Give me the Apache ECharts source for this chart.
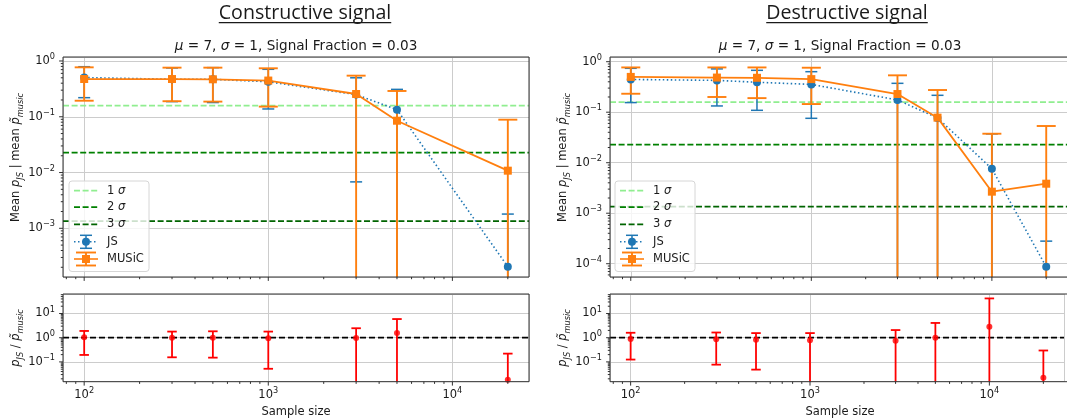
<!DOCTYPE html>
<html>
<head>
<meta charset="utf-8">
<script src="https://cdn.jsdelivr.net/npm/echarts@6/dist/echarts.min.js"></script>
<style>
  html, body { margin: 0; padding: 0; background: #ffffff; }
  #chart { width: 1067px; height: 420px; }
</style>
</head>
<body>
<div id="chart"></div>
<script>
// ---- data -------------------------------------------------------------
const panelTitles = ['Constructive signal', 'Destructive signal'];
const subTitleText = '{i|\u03bc}{t| = 7, }{i|\u03c3}{t| = 1, Signal Fraction = 0.03}';

const sigmaLevels = [0.1587, 0.02275, 0.00135];
const sigmaLabels = ['1', '2', '3'];
const sigmaColors = ['#90ee90', '#008000', '#006400'];

// constructive signal
const conSizes = [100, 300, 500, 1000, 3000, 5000, 20000];
const conJsMean = [0.505, 0.47, 0.47, 0.424, 0.25, 0.134, 0.000205];
const conJsHigh = [0.79, 0.75, 0.76, 0.71, 0.50, 0.31, 0.0018];
const conJsLow = [0.22, 0.187, 0.18, 0.138, 0.0068, null, null];
const conMusicMean = [0.475, 0.475, 0.47, 0.446, 0.256, 0.085, 0.0108];
const conMusicHigh = [0.77, 0.76, 0.76, 0.74, 0.546, 0.29, 0.0887];
const conMusicLow = [0.194, 0.19, 0.187, 0.152, null, null, null];
const conRatioMean = [1.04, 1.0, 1.0, 0.95, 0.98, 1.57, 0.0184];
const conRatioHigh = [1.9, 1.79, 1.84, 1.79, 2.46, 5.9, 0.22];
const conRatioLow = [0.194, 0.155, 0.15, 0.052, null, null, null];

// destructive signal
const desSizes = [100, 300, 500, 1000, 3000, 5000, 10000, 20000];
const desJsMean = [0.445, 0.4265, 0.392, 0.355, 0.175, 0.077, 0.0076, 0.000087];
const desJsHigh = [0.74, 0.72, 0.675, 0.634, 0.373, 0.216, 0.0372, 0.00028];
const desJsLow = [0.155, 0.133, 0.109, 0.0757, null, null, null, null];
const desMusicMean = [0.50, 0.485, 0.48, 0.452, 0.229, 0.078, 0.00267, 0.00384];
const desMusicHigh = [0.77, 0.77, 0.77, 0.76, 0.537, 0.275, 0.0375, 0.0533];
const desMusicLow = [0.232, 0.2, 0.19, 0.145, null, null, null, null];
const desRatioMean = [0.88, 0.87, 0.82, 0.78, 0.74, 1.0, 2.85, 0.0222];
const desRatioHigh = [1.6, 1.64, 1.55, 1.55, 2.07, 4.07, 42, 0.296];
const desRatioLow = [0.125, 0.077, 0.048, null, null, null, null, null];

// axis decades (major ticks) and ranges
const xDecades = [10, 100, 1000, 10000];
const xMajor = [100, 1000, 10000];
const conMainDecades = [1e-4, 1e-3, 1e-2, 1e-1, 1];
const conMainMajor = [1e-3, 1e-2, 1e-1, 1];
const desMainDecades = [1e-5, 1e-4, 1e-3, 1e-2, 1e-1, 1];
const desMainMajor = [1e-4, 1e-3, 1e-2, 1e-1, 1];
const ratioDecades = [0.01, 0.1, 1, 10];
const ratioMajor = [0.1, 1, 10];

// ---- styling / layout -------------------------------------------------
const FONT = 'DejaVu Sans';
const INK = '#1a1a1a';
const BLUE = '#1f77b4';
const ORANGE = '#ff7f0e';
const RED = '#ff0000';
const GRID_COLOR = '#cccccc';

const X_RANGE = [Math.pow(10, 2 - 0.11505), Math.pow(10, 4.30103 + 0.11505)];
const CON_MAIN_RANGE = [Math.pow(10, -3.873), Math.pow(10, 0.0717)];
const DES_MAIN_RANGE = [Math.pow(10, -4.263), Math.pow(10, 0.093)];
const RATIO_RANGE = [Math.pow(10, -1.818), Math.pow(10, 1.806)];

const grids = [
  { left: 63, top: 57, width: 466, height: 220 },     // constructive, main
  { left: 63, top: 294, width: 466, height: 87.7 },   // constructive, ratio
  { left: 610, top: 57, width: 460, height: 220 },    // destructive, main
  { left: 610, top: 294, width: 460, height: 87.7 }   // destructive, ratio
];

const tickRich = {
  b: { fontFamily: FONT, fontSize: 11.5, color: INK, lineHeight: 16 },
  e: { fontFamily: FONT, fontSize: 8.2, color: INK, lineHeight: 8, verticalAlign: 'top' }
};

function powLabel(v) {
  const e = Math.log10(v);
  const r = Math.round(e);
  if (Math.abs(e - r) > 1e-6) return '';
  const ex = r < 0 ? '\u2212' + (-r) : String(r);
  return '{b|10}{e|' + ex + '}';
}

function minorTicks(decades, range) {
  const out = [];
  decades.forEach(d => {
    for (let m = 2; m <= 9; m++) {
      const v = m * d;
      if (v > range[0] * 1.0001 && v < range[1] * 0.9999) out.push(v);
    }
  });
  return out;
}

function xAxisDef(gridIndex, showLabels) {
  return {
    type: 'log', logBase: 10, gridIndex, min: X_RANGE[0], max: X_RANGE[1],
    axisLine: { show: false }, axisTick: { show: false },
    splitLine: { show: true, lineStyle: { color: GRID_COLOR, width: 1 } },
    axisLabel: { show: showLabels, interval: 0, margin: 5, formatter: powLabel, rich: tickRich }
  };
}

function yAxisDef(gridIndex, range) {
  return {
    type: 'log', logBase: 10, gridIndex, min: range[0], max: range[1],
    axisLine: { show: false }, axisTick: { show: false },
    splitLine: { show: true, lineStyle: { color: GRID_COLOR, width: 1 } },
    axisLabel: { show: true, interval: 0, margin: 8, formatter: powLabel, rich: tickRich }
  };
}

// vertical error bars with caps; a missing low end runs to the bottom of the axis
function errorBars(gridIndex, xs, means, lows, highs, yRange, color, capWidth, lineWidth) {
  return {
    type: 'custom', xAxisIndex: gridIndex, yAxisIndex: gridIndex, silent: true,
    data: xs.map((x, i) => [x, means[i]]),
    renderItem(params, api) {
      const i = params.dataIndex;
      const x = xs[i];
      const hi = Math.min(highs[i], yRange[1]);
      const lo = lows[i] == null ? yRange[0] : lows[i];
      const pTop = api.coord([x, hi]);
      const pBot = api.coord([x, lo]);
      const st = { stroke: color, lineWidth: lineWidth };
      const children = [
        { type: 'line', shape: { x1: pTop[0], y1: pTop[1], x2: pBot[0], y2: pBot[1] }, style: st },
        { type: 'line', shape: { x1: pTop[0] - capWidth / 2, y1: pTop[1], x2: pTop[0] + capWidth / 2, y2: pTop[1] }, style: st }
      ];
      if (lows[i] != null) {
        children.push({ type: 'line', shape: { x1: pBot[0] - capWidth / 2, y1: pBot[1], x2: pBot[0] + capWidth / 2, y2: pBot[1] }, style: st });
      }
      return { type: 'group', children };
    }
  };
}

// horizontal reference lines across a whole panel
function hLines(gridIndex, levels, colors, widths, dash) {
  return {
    type: 'custom', xAxisIndex: gridIndex, yAxisIndex: gridIndex, silent: true,
    data: levels.map(v => [X_RANGE[0] * 2, v]),
    renderItem(params, api) {
      const cs = params.coordSys;
      const y = api.coord([X_RANGE[0] * 2, levels[params.dataIndex]])[1];
      return {
        type: 'line',
        shape: { x1: cs.x, y1: y, x2: cs.x + cs.width, y2: y },
        style: { stroke: colors[params.dataIndex], lineWidth: widths, lineDash: dash }
      };
    }
  };
}

// outward major / minor tick marks on the bottom and left edges
function tickMarks(gridIndex, yRange, yDecades, yMajor) {
  const yRef = Math.sqrt(yRange[0] * yRange[1]);
  const xRef = Math.sqrt(X_RANGE[0] * X_RANGE[1]);
  const items = [];
  xMajor.forEach(v => items.push({ axis: 'x', v, len: 3.9 }));
  minorTicks(xDecades, X_RANGE).forEach(v => items.push({ axis: 'x', v, len: 2.2 }));
  yMajor.forEach(v => items.push({ axis: 'y', v, len: 3.9 }));
  minorTicks(yDecades, yRange).forEach(v => items.push({ axis: 'y', v, len: 2.2 }));
  return {
    type: 'custom', xAxisIndex: gridIndex, yAxisIndex: gridIndex, silent: true, clip: false, z: 20,
    data: items.map(t => (t.axis === 'x' ? [t.v, yRef] : [xRef, t.v])),
    renderItem(params, api) {
      const t = items[params.dataIndex];
      const cs = params.coordSys;
      const st = { stroke: INK, lineWidth: 0.9 };
      if (t.axis === 'x') {
        const px = api.coord([t.v, yRef])[0];
        const y0 = cs.y + cs.height;
        return { type: 'line', shape: { x1: px, y1: y0, x2: px, y2: y0 + t.len }, style: st };
      }
      const py = api.coord([xRef, t.v])[1];
      return { type: 'line', shape: { x1: cs.x - t.len, y1: py, x2: cs.x, y2: py }, style: st };
    }
  };
}

function dataLine(gridIndex, xs, ys, color, symbol, lineType, width) {
  return {
    type: 'line', xAxisIndex: gridIndex, yAxisIndex: gridIndex, silent: true,
    data: xs.map((x, i) => [x, ys[i]]),
    symbol: symbol, symbolSize: 8, showSymbol: true,
    lineStyle: { color: color, width: width, type: lineType },
    itemStyle: { color: color, borderWidth: 0 }
  };
}

function ratioPoints(gridIndex, xs, ys) {
  return {
    type: 'scatter', xAxisIndex: gridIndex, yAxisIndex: gridIndex, silent: true,
    data: xs.map((x, i) => [x, ys[i]]),
    symbol: 'circle', symbolSize: 6, itemStyle: { color: RED }
  };
}

function mainPanelSeries(g, sizes, yRange, jsM, jsL, jsH, muM, muL, muH, decades, major) {
  return [
    hLines(g, sigmaLevels, sigmaColors, 1.8, [6, 2.6]),
    errorBars(g, sizes, jsM, jsL, jsH, yRange, BLUE, 12, 1.5),
    dataLine(g, sizes, jsM, BLUE, 'circle', [1.5, 2.5], 1.6),
    errorBars(g, sizes, muM, muL, muH, yRange, ORANGE, 19, 1.9),
    dataLine(g, sizes, muM, ORANGE, 'rect', 'solid', 1.8),
    tickMarks(g, yRange, decades, major)
  ];
}

function ratioPanelSeries(g, sizes, m, lo, hi) {
  return [
    hLines(g, [1], ['#000000'], 1.8, [6, 3]),
    errorBars(g, sizes, m, lo, hi, RATIO_RANGE, RED, 9.5, 1.8),
    ratioPoints(g, sizes, m),
    tickMarks(g, RATIO_RANGE, ratioDecades, ratioMajor)
  ];
}

// ---- text and legend drawn as graphic elements -------------------------
const labelRich = {
  t: { fontFamily: FONT, fontSize: 11.5, fill: INK, lineHeight: 16 },
  i: { fontFamily: FONT, fontSize: 11.5, fontStyle: 'italic', fill: INK, lineHeight: 16 },
  s: { fontFamily: FONT, fontSize: 8.2, fontStyle: 'italic', fill: INK, lineHeight: 8, verticalAlign: 'bottom' }
};
const subRich = {
  t: { fontFamily: FONT, fontSize: 13.6, fill: INK, lineHeight: 18 },
  i: { fontFamily: FONT, fontSize: 13.6, fontStyle: 'italic', fill: INK, lineHeight: 18 }
};

const measureCtx = document.createElement('canvas').getContext('2d');
function textWidth(txt, font) {
  measureCtx.font = font;
  return measureCtx.measureText(txt).width;
}

function richText(x, y, text, rich, rotation) {
  return {
    type: 'text', x: x, y: y, rotation: rotation || 0, silent: true, z: 60,
    style: { text: text, rich: rich, align: 'center', verticalAlign: 'middle', fill: INK, fontFamily: FONT, fontSize: 11.5 }
  };
}

function frame(gr) {
  return {
    type: 'rect', silent: true, z: 55,
    shape: { x: gr.left, y: gr.top, width: gr.width, height: gr.height },
    style: { fill: 'none', stroke: '#333333', lineWidth: 1 }
  };
}

function legend(x0, y0) {
  const rowsY = [9.7, 26.2, 43.4, 60.8, 78].map(d => y0 + d);
  const hx1 = x0 + 5, hx2 = x0 + 29, mx = x0 + 17, tx = x0 + 38;
  const els = [{
    type: 'rect', silent: true, z: 70,
    shape: { x: x0, y: y0, width: 80, height: 90.5, r: 3 },
    style: { fill: 'rgba(255,255,255,0.8)', stroke: '#d6d6d6', lineWidth: 1 }
  }];
  sigmaLevels.forEach((lv, k) => {
    els.push({ type: 'line', silent: true, z: 71, shape: { x1: hx1, y1: rowsY[k], x2: hx2, y2: rowsY[k] },
      style: { stroke: sigmaColors[k], lineWidth: 1.8, lineDash: [6, 2.6] } });
    els.push({ type: 'text', silent: true, z: 71, x: tx, y: rowsY[k],
      style: { text: '{t|' + sigmaLabels[k] + ' }{i|\u03c3}', rich: labelRich, align: 'left', verticalAlign: 'middle' } });
  });
  const entries = [
    { name: 'JS', color: BLUE, cap: 12, dash: [1.5, 2.5], marker: 'circle', lw: 1.5 },
    { name: 'MUSiC', color: ORANGE, cap: 20, dash: null, marker: 'rect', lw: 1.9 }
  ];
  entries.forEach((en, j) => {
    const y = rowsY[3 + j];
    els.push({ type: 'line', silent: true, z: 71, shape: { x1: hx1, y1: y, x2: hx2, y2: y },
      style: { stroke: en.color, lineWidth: 1.6, lineDash: en.dash } });
    els.push({ type: 'line', silent: true, z: 71, shape: { x1: mx, y1: y - 6.5, x2: mx, y2: y + 6.5 },
      style: { stroke: en.color, lineWidth: en.lw } });
    [-6.5, 6.5].forEach(dy => els.push({ type: 'line', silent: true, z: 71,
      shape: { x1: mx - en.cap / 2, y1: y + dy, x2: mx + en.cap / 2, y2: y + dy },
      style: { stroke: en.color, lineWidth: en.lw } }));
    if (en.marker === 'circle') {
      els.push({ type: 'circle', silent: true, z: 72, shape: { cx: mx, cy: y, r: 4 }, style: { fill: en.color } });
    } else {
      els.push({ type: 'rect', silent: true, z: 72, shape: { x: mx - 4, y: y - 4, width: 8, height: 8 }, style: { fill: en.color } });
    }
    els.push({ type: 'text', silent: true, z: 71, x: tx, y: y,
      style: { text: en.name, fontFamily: FONT, fontSize: 11.5, fill: INK, align: 'left', verticalAlign: 'middle' } });
  });
  return els;
}

const TITLE_FONT_SIZE = 19.6;
const TITLE_FONT = TITLE_FONT_SIZE + 'px "Open Sans"';
const titleCenters = [305, 847];

function titleGraphic(k) {
  const w = textWidth(panelTitles[k], TITLE_FONT);
  const cx = titleCenters[k];
  return [
    { type: 'text', silent: true, z: 60, x: cx, y: 13.2,
      style: { text: panelTitles[k], fontFamily: 'Open Sans', fontSize: TITLE_FONT_SIZE, fill: INK, align: 'center', verticalAlign: 'middle' } },
    { type: 'line', silent: true, z: 60, shape: { x1: cx - w / 2, y1: 22.6, x2: cx + w / 2, y2: 22.6 },
      style: { stroke: INK, lineWidth: 1.3 } }
  ];
}

const mainLabel = '{t|Mean }{i|p}{s|JS}{t| | mean }{i|p\u0303}{s|music}';
const ratioLabel = '{i|p}{s|JS}{t| / }{i|p\u0303}{s|music}';

const graphics = [].concat(
  titleGraphic(0), titleGraphic(1),
  [
    richText(grids[0].left + grids[0].width / 2, 46.5, subTitleText, subRich),
    richText(grids[2].left + grids[2].width / 2, 46.5, subTitleText, subRich),
    richText(16.5, 157.5, mainLabel, labelRich, Math.PI / 2),
    richText(563.5, 157.5, mainLabel, labelRich, Math.PI / 2),
    richText(16.5, 338, ratioLabel, labelRich, Math.PI / 2),
    richText(563.5, 338, ratioLabel, labelRich, Math.PI / 2),
    richText(grids[1].left + grids[1].width / 2, 412.5, '{t|Sample size}', labelRich),
    richText(grids[3].left + grids[3].width / 2, 412.5, '{t|Sample size}', labelRich),
    frame(grids[0]), frame(grids[1]), frame(grids[2]), frame(grids[3])
  ],
  legend(69, 181), legend(615, 181)
);

const option = {
  backgroundColor: '#ffffff',
  animation: false,
  grid: grids.map(g => Object.assign({ containLabel: false }, g)),
  xAxis: [xAxisDef(0, false), xAxisDef(1, true), xAxisDef(2, false), xAxisDef(3, true)],
  yAxis: [yAxisDef(0, CON_MAIN_RANGE), yAxisDef(1, RATIO_RANGE), yAxisDef(2, DES_MAIN_RANGE), yAxisDef(3, RATIO_RANGE)],
  series: [].concat(
    mainPanelSeries(0, conSizes, CON_MAIN_RANGE, conJsMean, conJsLow, conJsHigh,
      conMusicMean, conMusicLow, conMusicHigh, conMainDecades, conMainMajor),
    ratioPanelSeries(1, conSizes, conRatioMean, conRatioLow, conRatioHigh),
    mainPanelSeries(2, desSizes, DES_MAIN_RANGE, desJsMean, desJsLow, desJsHigh,
      desMusicMean, desMusicLow, desMusicHigh, desMainDecades, desMainMajor),
    ratioPanelSeries(3, desSizes, desRatioMean, desRatioLow, desRatioHigh)
  ),
  graphic: graphics
};

const chart = echarts.init(document.getElementById('chart'), null, { renderer: 'canvas' });
chart.setOption(option);
</script>
</body>
</html>
